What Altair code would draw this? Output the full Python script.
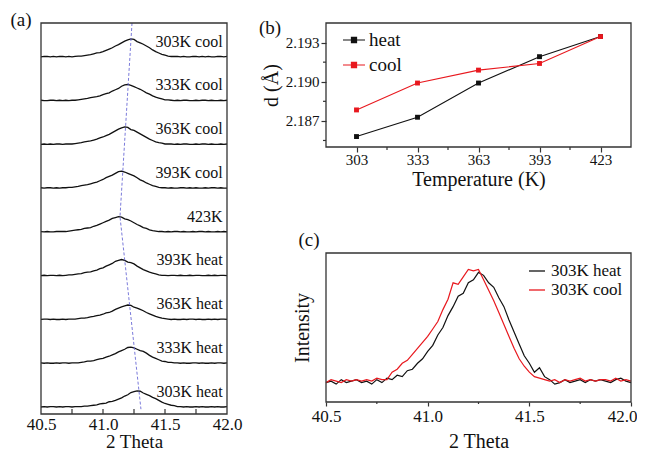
import altair as alt
import pandas as pd

FONT = "Liberation Serif"

# ---------------- panel (a): stacked XRD peaks ----------------
two_theta = [round(40.5 + 0.025 * i, 3) for i in range(61)]

curve_names = ["303K heat", "333K heat", "363K heat", "393K heat", "423K",
               "393K cool", "363K cool", "333K cool", "303K cool"]

c303h = [0,1,0,1,1,0,1,0,1,1,0,1,1,
         1,2,2,3,4,5,7,8,9,12,13,15,18,21,25,28,33,35,37,36,32,29,26,22,19,15,11,8,6,4,3,1,1,
         0,1,0,0,1,0,1,0,0,1,0,1,0,0,1]
c333h = [1,0,1,0,0,1,0,1,1,0,1,
         1,1,2,3,5,5,6,8,10,11,14,16,19,22,26,29,32,36,37,35,32,29,27,23,18,14,11,8,5,4,2,2,1,
         1,0,1,0,0,1,1,0,1,0,0,1,0,1,1,0,1]
c363h = [0,1,1,0,1,0,0,1,0,1,
         1,1,2,3,3,4,6,7,9,10,12,15,16,19,23,26,29,31,33,32,28,26,23,20,16,13,10,7,5,3,2,1,0,
         1,0,0,1,0,1,1,0,1,0,0,1,0,1,0,1,1,0]
c393h = [0,1,0,1,1,0,1,0,
         1,2,2,3,4,5,7,8,9,11,13,16,18,22,25,28,33,35,37,35,31,30,27,22,18,14,11,8,6,4,2,1,1,
         0,1,1,0,1,0,0,1,0,1,1,0,0,1,0,1,0,1,1,0]
c423 = [1,0,1,0,0,1,1,
        1,1,2,3,4,5,6,8,9,10,13,15,18,21,24,27,31,33,35,34,30,28,25,21,17,14,10,8,5,3,2,1,1,
        0,1,0,1,1,0,1,0,0,1,0,1,1,0,1,0,0,1,0,1,0]
c393c = [1,0,1,1,0,1,0,1,
         1,2,2,3,4,6,7,8,10,12,14,17,20,24,27,30,34,38,39,37,34,31,28,24,19,16,12,9,6,4,2,1,1,
         0,1,0,0,1,1,0,1,0,1,0,0,1,0,1,1,0,1,0,0]
c363c = [0,1,0,1,0,1,1,0,1,
         1,1,2,3,4,6,7,8,10,12,15,17,20,23,27,31,35,38,40,39,34,32,28,24,20,16,12,9,6,4,3,1,1,
         1,0,1,0,1,1,0,0,1,0,1,1,0,1,0,0,1,0,1]
c333c = [1,0,0,1,1,0,1,0,1,0,
         1,1,2,3,4,5,7,8,9,11,14,16,18,22,25,28,33,36,37,35,32,29,26,22,18,15,11,8,6,4,2,2,1,
         0,1,0,1,1,0,0,1,0,1,1,0,1,0,0,1,0,1]
c303c = [0,1,1,0,1,0,1,1,0,1,0,
         1,2,2,3,4,5,7,9,10,12,15,18,21,25,28,32,36,39,41,40,35,32,29,25,21,16,12,9,6,4,2,1,1,
         1,0,1,0,0,1,1,0,1,0,1,0,0,1,1,0,1]
curves = [c303h, c333h, c363h, c393h, c423, c393c, c363c, c333c, c303c]
for cv in curves:
    assert len(cv) == 61, len(cv)

# dashed guide through the peak maxima
guide_x = [41.234, 41.137, 41.306]
guide_y = [8.775, 4.35, -0.05]

a_ticks = [40.75, 41.0, 41.25, 41.5, 41.75]

# ---------------- panel (b): d-spacing ----------------
temps = [303, 333, 363, 393, 423]
d_heat = [2.18580, 2.18728, 2.18990, 2.19192, 2.19346]
d_cool = [2.18784, 2.18990, 2.19089, 2.19140, 2.19346]
b_xminor = [318, 348, 378, 408]
b_yminor = [2.1855, 2.1885, 2.1915]

# ---------------- panel (c): 303K heat vs cool ----------------
int_heat = [0.13,0.14,0.12,0.15,0.13,0.14,0.15,0.13,0.14,0.12,0.15,0.13,0.16,0.15,0.18,0.17,
            0.21,0.22,0.26,0.29,0.34,0.38,0.45,0.50,0.58,0.64,0.71,0.73,0.80,0.82,0.87,0.85,
            0.80,0.77,0.70,0.64,0.55,0.47,0.39,0.31,0.26,0.20,0.23,0.17,0.15,0.12,0.13,0.15,
            0.13,0.14,0.15,0.13,0.15,0.14,0.15,0.14,0.13,0.15,0.16,0.14,0.13]
int_cool = [0.13,0.15,0.14,0.13,0.15,0.14,0.15,0.14,0.15,0.14,0.16,0.15,0.15,0.20,0.22,0.26,
            0.28,0.32,0.36,0.40,0.44,0.49,0.54,0.62,0.69,0.80,0.79,0.84,0.89,0.88,0.89,0.82,
            0.75,0.68,0.60,0.52,0.44,0.36,0.29,0.24,0.20,0.17,0.16,0.15,0.14,0.15,0.13,0.15,
            0.14,0.15,0.16,0.14,0.15,0.14,0.15,0.15,0.14,0.16,0.14,0.15,0.14]
c_minor = [40.75, 41.25, 41.75]

# ---------------- sizes ----------------
W_A, H_A = 186, 391
W_B, H_B = 305, 124
W_C, H_C = 305, 149
INK = "#111111"
RED = "#e8181e"
FRAME = "#333333"

ax_base = dict(labelFont=FONT, titleFont=FONT, labelColor=INK, titleColor=INK,
               titleFontWeight="normal", grid=False, domain=False, labelFlush=False,
               labelOverlap=False)


def frame(w, h):
    return alt.Chart(pd.DataFrame({"f": [0]})).mark_rect(
        fillOpacity=0, stroke=FRAME, strokeWidth=1.3).encode(
        x=alt.value(0), x2=alt.value(w), y=alt.value(0), y2=alt.value(h))


def tag(label, dx, dy):
    return alt.Chart(pd.DataFrame({"t": [label]})).mark_text(
        font=FONT, fontSize=19, color=INK, align="center", baseline="middle").encode(
        text="t:N", x=alt.value(dx), y=alt.value(dy))


# ---------- build panel (a) ----------
rows = []
for k, (name, cv) in enumerate(zip(curve_names, curves)):
    for xv, v in zip(two_theta, cv):
        rows.append({"x": xv, "y": k + v / 100.0, "curve": name})
df_a = pd.DataFrame(rows)
df_lab = pd.DataFrame({"x": [41.965] * 9, "y": [k + 0.35 for k in range(9)], "t": curve_names})
df_guide = pd.DataFrame({"x": guide_x, "y": guide_y, "o": [0, 1, 2]})
df_at = pd.DataFrame({"x": a_ticks})

xs_a = alt.Scale(domain=[40.5, 42.0], nice=False, zero=False)
ys_a = alt.Scale(domain=[-0.16, 8.775], nice=False, zero=False)

a_lines = alt.Chart(df_a).mark_line(color=INK, strokeWidth=1.3).encode(
    x=alt.X("x:Q", scale=xs_a, title="2 Theta",
            axis=alt.Axis(values=[40.5, 41.0, 41.5, 42.0], format=".1f", ticks=False,
                          labelFontSize=17, titleFontSize=19, labelPadding=2,
                          titlePadding=0, **ax_base)),
    y=alt.Y("y:Q", scale=ys_a, axis=None),
    detail="curve:N",
)
a_guide = alt.Chart(df_guide).mark_line(color="#6b6bd6", strokeWidth=0.9, strokeDash=[3, 2]).encode(
    x=alt.X("x:Q", scale=xs_a), y=alt.Y("y:Q", scale=ys_a, axis=None), order="o:Q")
a_text = alt.Chart(df_lab).mark_text(font=FONT, fontSize=16, align="right", baseline="middle",
                                     color=INK).encode(
    x=alt.X("x:Q", scale=xs_a), y=alt.Y("y:Q", scale=ys_a, axis=None), text="t:N")
a_tick = alt.Chart(df_at).mark_rule(color=FRAME, strokeWidth=1.2).encode(
    x=alt.X("x:Q", scale=xs_a), y=alt.value(H_A), y2=alt.value(H_A - 5))
panel_a = alt.layer(a_lines, a_guide, a_text, a_tick, frame(W_A, H_A),
                    tag("(a)", -20, -3)).properties(width=W_A, height=H_A)

# ---------- build panel (b) ----------
df_b = pd.DataFrame({"T": temps * 2, "d": d_heat + d_cool,
                     "s": ["heat"] * 5 + ["cool"] * 5})
xs_b = alt.Scale(domain=[288, 438], nice=False, zero=False)
ys_b = alt.Scale(domain=[2.185, 2.1945], nice=False, zero=False)
col_b = alt.Scale(domain=["heat", "cool"], range=[INK, RED])
LEG_PATH = ("M-1,0H1M-0.23,-0.23H0.23V0.23H-0.23ZM-0.23,-0.12H0.23M-0.23,0.12H0.23"
            "M-0.12,-0.23V0.23M0.12,-0.23V0.23M-0.23,0H0.23")

b_line = alt.Chart(df_b).mark_line(strokeWidth=1.1).encode(
    x=alt.X("T:Q", scale=xs_b, title="Temperature (K)",
            axis=alt.Axis(values=temps, ticks=True, tickSize=5, tickColor=FRAME, tickWidth=1.2,
                          labelFontSize=15, titleFontSize=20, labelPadding=0, titlePadding=2,
                          **ax_base)),
    y=alt.Y("d:Q", scale=ys_b, title="d (Å)",
            axis=alt.Axis(values=[2.187, 2.190, 2.193], format=".3f", ticks=True, tickSize=5,
                          tickColor=FRAME, tickWidth=1.2, labelFontSize=15, titleFontSize=20,
                          labelPadding=2, titlePadding=4, **ax_base)),
    color=alt.Color("s:N", scale=col_b,
                    legend=alt.Legend(title=None, orient="none", legendX=16, legendY=5,
                                      symbolType=LEG_PATH, symbolSize=484, symbolStrokeWidth=1.2,
                                      labelFont=FONT, labelFontSize=19, labelColor=INK,
                                      padding=0, rowPadding=3, labelOffset=3)),
)
b_pts = alt.Chart(df_b).mark_point(shape="square", filled=True, size=24, opacity=1).encode(
    x=alt.X("T:Q", scale=xs_b), y=alt.Y("d:Q", scale=ys_b),
    color=alt.Color("s:N", scale=col_b, legend=None))
b_xm = alt.Chart(pd.DataFrame({"T": b_xminor})).mark_rule(color=FRAME, strokeWidth=1.2).encode(
    x=alt.X("T:Q", scale=xs_b), y=alt.value(H_B), y2=alt.value(H_B + 3))
b_ym = alt.Chart(pd.DataFrame({"d": b_yminor})).mark_rule(color=FRAME, strokeWidth=1.2).encode(
    y=alt.Y("d:Q", scale=ys_b), x=alt.value(0), x2=alt.value(-3))
panel_b = alt.layer(b_line, b_pts, b_xm, b_ym, frame(W_B, H_B),
                    tag("(b)", -56, 5)).properties(width=W_B, height=H_B)

# ---------- build panel (c) ----------
df_c = pd.DataFrame({"x": two_theta * 2, "I": int_heat + int_cool,
                     "s": ["303K heat"] * 61 + ["303K cool"] * 61})
ys_c = alt.Scale(domain=[0, 1], nice=False, zero=False)
col_c = alt.Scale(domain=["303K heat", "303K cool"], range=[INK, RED])
c_line = alt.Chart(df_c).mark_line(strokeWidth=1.2).encode(
    x=alt.X("x:Q", scale=xs_a, title="2 Theta",
            axis=alt.Axis(values=[40.5, 41.0, 41.5, 42.0], format=".1f", ticks=True, tickSize=4,
                          tickColor=FRAME, tickWidth=1.2, labelFontSize=17, titleFontSize=20,
                          labelPadding=2, titlePadding=7,
                          labelOffset=alt.condition("datum.value > 41.9", alt.value(-9), alt.value(0)),
                          **ax_base)),
    y=alt.Y("I:Q", scale=ys_c, title="Intensity",
            axis=alt.Axis(labels=False, ticks=False, titleFontSize=20, titlePadding=14, **ax_base)),
    color=alt.Color("s:N", scale=col_c,
                    legend=alt.Legend(title=None, orient="none", legendX=202, legendY=9,
                                      symbolType="stroke", symbolSize=256, symbolStrokeWidth=1.3,
                                      labelFont=FONT, labelFontSize=17, labelColor=INK,
                                      padding=0, rowPadding=2, labelOffset=5)),
)
c_xm = alt.Chart(pd.DataFrame({"x": c_minor})).mark_rule(color=FRAME, strokeWidth=1.2).encode(
    x=alt.X("x:Q", scale=xs_a), y=alt.value(H_C), y2=alt.value(H_C + 2))
panel_c = alt.layer(c_line, c_xm, frame(W_C, H_C),
                    tag("(c)", -17, -13)).properties(width=W_C, height=H_C)

right = alt.vconcat(panel_b, panel_c, spacing=42).resolve_scale(color="independent").resolve_legend(color="independent")
chart = alt.hconcat(panel_a, right, spacing=16).resolve_scale(color="independent").resolve_legend(color="independent").properties(
    padding={"left": 2, "top": 3, "right": 0, "bottom": 0}, background="white"
).configure_view(strokeWidth=0)

chart.save("out.html", embed_options={"renderer": "svg", "actions": False})
